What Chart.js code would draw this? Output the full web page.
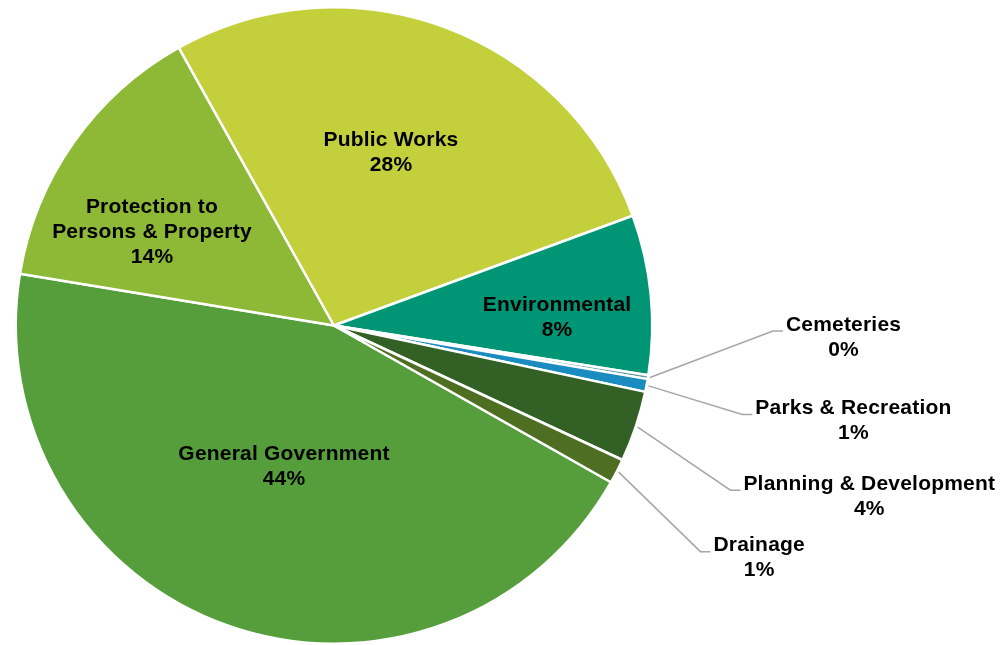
<!DOCTYPE html>
<html><head><meta charset="utf-8">
<style>html,body{margin:0;padding:0;background:#fff;overflow:hidden}#wrap{position:relative;width:1007px;height:645px}</style>
<script src="https://cdn.jsdelivr.net/npm/chart.js@4.4.1/dist/chart.umd.min.js"></script>
</head><body><div id="wrap"><canvas id="c"></canvas></div>
<script>
// ---- data ----
const categories = ['General Government', ['Protection to', 'Persons & Property'], 'Public Works', 'Environmental', 'Cemeteries', 'Parks & Recreation', 'Planning & Development', 'Drainage'];
const values = [44.4, 14.3, 27.5, 8.1, 0.2, 0.65, 3.6, 1.25];
const colors = ['#559E3B', '#8DB936', '#C3CF3B', '#009675', '#5B9BA8', '#1A8CBF', '#336025', '#4E6E22'];

// label placement (in units of pie radius, relative to pie centre)
const labelPlacement = [
  {inside: true, dx: -0.157, dy: 0.445},
  {inside: true, dx: -0.572, dy: -0.294},
  {inside: true, dx: 0.179, dy: -0.542},
  {inside: true, dx: 0.701, dy: -0.025},
  {inside: false, dx: 1.601, dy: 0.038},
  {inside: false, dx: 1.632, dy: 0.300},
  {inside: false, dx: 1.682, dy: 0.538},
  {inside: false, dx: 1.336, dy: 0.731}
];

const FONT = 'bold 21px "Liberation Sans", Arial, sans-serif';
const LINE_H = 25;

const labelPlugin = {
  id: 'pieLabels',
  afterDatasetsDraw(chart) {
    const ctx = chart.ctx;
    const meta = chart.getDatasetMeta(0);
    const total = values.reduce((a, b) => a + b, 0);
    ctx.save();
    ctx.font = FONT;
    try { ctx.letterSpacing = '0.2px'; } catch (e) {}
    ctx.fillStyle = '#000000';
    ctx.textAlign = 'center';
    ctx.textBaseline = 'middle';
    meta.data.forEach((arc, i) => {
      const p = arc.getProps(['x', 'y', 'startAngle', 'endAngle', 'outerRadius'], true);
      const R = p.outerRadius;
      const name = categories[i];
      const lines = (Array.isArray(name) ? name.slice() : [name]);
      lines.push(Math.round(values[i] / total * 100) + '%');
      const pl = labelPlacement[i];
      const cx = p.x + pl.dx * R;
      const cy = p.y + pl.dy * R;
      const y0 = cy - (lines.length - 1) * LINE_H / 2;
      if (!pl.inside) {
        const maxW = Math.max(...lines.map(l => ctx.measureText(l).width));
        const left = cx - maxW / 2;
        const ay = y0 + 6;
        const mid = (p.startAngle + p.endAngle) / 2;
        const sx = p.x + Math.cos(mid) * (R + 2);
        const sy = p.y + Math.sin(mid) * (R + 2);
        ctx.save();
        ctx.strokeStyle = '#A6A6A6';
        ctx.lineWidth = 1.5;
        ctx.beginPath();
        ctx.moveTo(sx, sy);
        ctx.lineTo(left - 13, ay);
        ctx.lineTo(left - 3, ay);
        ctx.stroke();
        ctx.restore();
      }
      lines.forEach((l, k) => ctx.fillText(l, cx, y0 + k * LINE_H));
    });
    ctx.restore();
  }
};

new Chart(document.getElementById('c'), {
  type: 'pie',
  data: {
    labels: categories,
    datasets: [{
      data: values,
      backgroundColor: colors,
      borderColor: '#ffffff',
      borderWidth: 2.5,
      hoverOffset: 0
    }]
  },
  options: {
    responsive: true,
    maintainAspectRatio: false,
    animation: false,
    rotation: 119.5,
    layout: {padding: {left: 14, right: 353, top: 6, bottom: 0}},
    plugins: {legend: {display: false}, tooltip: {enabled: false}}
  },
  plugins: [labelPlugin]
});
</script>
</body></html>
